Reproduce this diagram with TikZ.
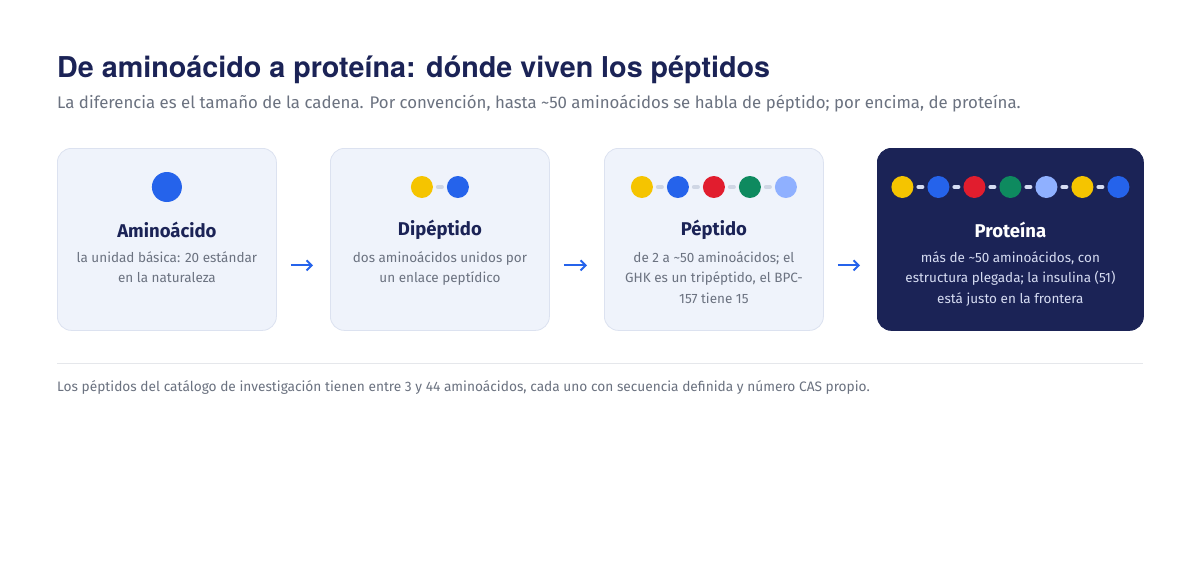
\documentclass[tikz,border=0pt]{standalone}
\usepackage{fontspec}
\setmainfont{Fira Sans}
\newfontfamily\titlefont{TeX Gyre Heros}
\usetikzlibrary{arrows.meta}

\definecolor{marino}{HTML}{1B2356}
\definecolor{gris}{HTML}{6B7280}
\definecolor{fondo}{HTML}{EFF3FB}
\definecolor{borde}{HTML}{DCE2F0}
\definecolor{enlacegris}{HTML}{CFD6E4}
\definecolor{claro}{HTML}{D6DCF2}
\definecolor{linea}{HTML}{E5E7EB}
\definecolor{amarillo}{HTML}{F5C400}
\definecolor{azul}{HTML}{2563EB}
\definecolor{rojo}{HTML}{E11D2E}
\definecolor{verde}{HTML}{0E8A5F}
\definecolor{celeste}{HTML}{8FB0FF}

\tikzset{
	caja/.style={draw=borde, fill=fondo, line width=0.8pt, rounded corners=14pt, anchor=north west, minimum width=219pt, minimum height=182pt, inner sep=0pt},
	punto/.style={circle, inner sep=0pt, outer sep=0pt, minimum size=22pt},
	enlace/.style={draw=enlacegris, line width=4pt, line cap=round, shorten <=5pt, shorten >=5pt},
	nombre/.style={font=\fontsize{18.5}{20}\selectfont\bfseries, text=marino, inner sep=0pt},
	texto/.style={font=\fontsize{13.5}{20.5}\selectfont, text=gris, align=center, anchor=north, inner sep=0pt},
	flecha/.style={draw=azul, line width=2pt, -{Straight Barb[length=5pt, width=10pt]}},
}

\begin{document}
\begin{tikzpicture}[x=1pt, y=-1pt]
	\useasboundingbox[fill=white] (0,0) rectangle (1200,560);
	
	\node[anchor=base west, inner sep=0pt, text=marino, font=\titlefont\fontsize{28.7}{32}\selectfont\bfseries] (titulo) at (57,77) {De aminoácido a proteína: dónde viven los péptidos};
	\node[anchor=base west, inner sep=0pt, text=gris, font=\fontsize{16.8}{19}\selectfont] (sub) at (57,108) {La diferencia es el tamaño de la cadena. Por convención, hasta \textasciitilde50 aminoácidos se habla de péptido; por encima, de proteína.};
	
	% cajas
	\node[caja] (amino) at (57,148) {};
	\node[caja] (dip) at (330,148) {};
	\node[caja] (pep) at (604,148) {};
	\node[caja, fill=marino, draw=marino, minimum width=266pt] (prot) at (877,148) {};
	
	% cadenas
	\node[punto, fill=azul, minimum size=30pt] (amino1) at ([yshift=-39pt]amino.north) {};
	\foreach \c [count=\i] in {amarillo,azul}{
		\node[punto, fill=\c] (dip\i) at ([xshift=(\i-1.5)*36pt, yshift=-39pt]dip.north) {};}
	\draw[enlace] (dip1) -- (dip2);
	\foreach \c [count=\i] in {amarillo,azul,rojo,verde,celeste}{
		\node[punto, fill=\c] (pep\i) at ([xshift=(\i-3)*36pt, yshift=-39pt]pep.north) {};}
	\foreach \i [remember=\i as \j (initially 1)] in {2,...,5}
		\draw[enlace] (pep\j) -- (pep\i);
	\foreach \c [count=\i] in {amarillo,azul,rojo,verde,celeste,amarillo,azul}{
		\node[punto, fill=\c] (prot\i) at ([xshift=(\i-4)*36pt, yshift=-39pt]prot.north) {};}
	\foreach \i [remember=\i as \j (initially 1)] in {2,...,7}
		\draw[enlace, draw=claro] (prot\j) -- (prot\i);
	
	% textos
	\node[nombre] (amino-t) at ([yshift=-82pt]amino.north) {Aminoácido};
	\node[texto] (amino-d) at ([yshift=-103pt]amino.north) {la unidad básica: 20 estándar\\en la naturaleza};
	\node[nombre] (dip-t) at ([yshift=-82pt]dip.north) {Dipéptido};
	\node[texto] (dip-d) at ([yshift=-103pt]dip.north) {dos aminoácidos unidos por\\un enlace peptídico};
	\node[nombre] (pep-t) at ([yshift=-82pt]pep.north) {Péptido};
	\node[texto] (pep-d) at ([yshift=-103pt]pep.north) {de 2 a \textasciitilde50 aminoácidos; el\\GHK es un tripéptido, el BPC-\\157 tiene 15};
	\node[nombre, text=white] (prot-t) at ([yshift=-82pt]prot.north) {Proteína};
	\node[texto, text=claro] (prot-d) at ([yshift=-103pt]prot.north) {más de \textasciitilde50 aminoácidos, con\\estructura plegada; la insulina (51)\\está justo en la frontera};
	
	% flechas
	\draw[flecha] ([xshift=14pt, yshift=-26pt]amino.east) -- ([xshift=-17pt, yshift=-26pt]dip.west);
	\draw[flecha] ([xshift=14pt, yshift=-26pt]dip.east) -- ([xshift=-17pt, yshift=-26pt]pep.west);
	\draw[flecha] ([xshift=14pt, yshift=-26pt]pep.east) -- ([xshift=-17pt, yshift=-26pt]prot.west);
	
	\coordinate (izq) at (57,363);
	\coordinate (der) at (1143,363);
	\draw[linea, line width=1pt] (izq) -- (der);
	\node[anchor=base west, inner sep=0pt, text=gris, font=\fontsize{13.7}{16}\selectfont] (nota) at (57,391) {Los péptidos del catálogo de investigación tienen entre 3 y 44 aminoácidos, cada uno con secuencia definida y número CAS propio.};
\end{tikzpicture}
\end{document}
